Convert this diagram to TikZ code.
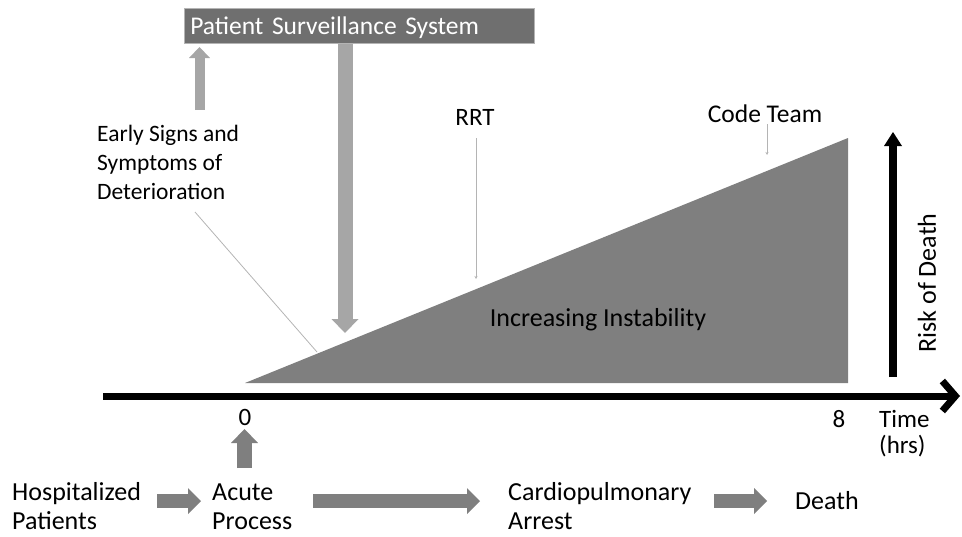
\documentclass[tikz,border=0pt]{standalone}
\usepackage{fontspec}
\setmainfont{Carlito}
\usetikzlibrary{arrows.meta}
\definecolor{boxgray}{HTML}{6F6F6F}
\definecolor{trigray}{HTML}{7F7F7F}
\definecolor{lightarr}{HTML}{A6A6A6}
\definecolor{darkarr}{HTML}{7F7F7F}
\definecolor{callout}{HTML}{B4B4B4}
\begin{document}
\begin{tikzpicture}[x=1pt,y=-1pt,
  lbl/.style={inner sep=0pt, font=\fontsize{26}{30}\selectfont, align=left},
  blkdark/.style={darkarr, line width=14pt, -{Triangle[length=13pt,width=26pt,line width=0pt]}},
  blklight/.style={lightarr, line width=15pt, -{Triangle[length=14pt,width=27pt,line width=0pt]}},
  blkthin/.style={lightarr, line width=10pt, -{Triangle[length=11pt,width=21pt,line width=0pt]}},
  calloutline/.style={callout, line width=0.8pt},
  axisline/.style={black, line width=7pt, -{Straight Barb[length=13pt,width=30pt]}},
  riskarrow/.style={black, line width=8.5pt, -{Triangle[length=14pt,width=18pt,line width=0pt]}}
]
\useasboundingbox (0,0) rectangle (962,536);

% triangle of instability
\fill[trigray] (245,383) -- (848,138) -- (848,383) -- cycle;
\node[lbl] (instab) at (598,320) {Increasing Instability};

% top box
\node[lbl, anchor=north west, draw=callout, line width=0.6pt, fill=boxgray, text=white,
      font=\fontsize{25.5}{30}\selectfont,
      minimum width=350pt, minimum height=35pt, text width=338pt, inner xsep=6pt,
      text height=17pt, text depth=0pt] (pss) at (184,8)
      {Patient Surveillance System};

% early signs (base = last line's baseline)
\node[lbl, anchor=base west, font=\fontsize{23.5}{28.7}\selectfont] (early) at (97,199)
      {Early Signs and\\Symptoms of\\Deterioration};
\coordinate (earlyup) at (199.5,110);
\coordinate (earlytip) at (199.5,47);
\draw[blkthin] (earlyup) -- (earlytip);
\coordinate (early1) at (195,212);
\coordinate (early2) at (317,352);
\draw[calloutline] (early1) -- (early2);

% surveillance down arrow
\coordinate (pssdown) at (345,44);
\coordinate (psstip) at (345,333);
\draw[blklight] (pssdown) -- (psstip);

% RRT
\node[lbl, anchor=base, font=\fontsize{25}{30}\selectfont] (rrt) at (475,125) {RRT};
\coordinate (rrt1) at (476,138);
\coordinate (rrt2) at (476,279);
\draw[calloutline, -{Stealth[length=3pt,width=3pt]}] (rrt1) -- (rrt2);

% Code Team
\node[lbl, anchor=base, font=\fontsize{25.5}{30}\selectfont] (code) at (765,122) {Code Team};
\coordinate (code1) at (767,124);
\coordinate (code2) at (767,155);
\draw[calloutline, -{Stealth[length=3pt,width=3pt]}] (code1) -- (code2);

% time axis
\coordinate (ax0) at (103,396);
\coordinate (ax1) at (960,396);
\draw[axisline] (ax0) -- (ax1);
\node[lbl, anchor=base, font=\fontsize{25}{30}\selectfont] (zero) at (245,425) {0};
\node[lbl, anchor=base, font=\fontsize{25}{30}\selectfont] (eight) at (839,427) {8};
\node[lbl, anchor=base west, font=\fontsize{25}{26}\selectfont] (time) at (879,453) {Time\\(hrs)};

% risk of death
\coordinate (risk0) at (893,377);
\coordinate (risk1) at (893,132);
\draw[riskarrow] (risk0) -- (risk1);
\node[lbl, rotate=90] (risk) at (927,283) {Risk of Death};

% bottom row
\node[lbl, anchor=base west, font=\fontsize{26}{29}\selectfont] (hosp) at (12,529) {Hospitalized\\Patients};
\node[lbl, anchor=base west, font=\fontsize{26}{29}\selectfont] (acute) at (212,529) {Acute\\Process};
\node[lbl, anchor=base west, font=\fontsize{26}{29}\selectfont] (cpa) at (508,529) {Cardiopulmonary\\Arrest};
\node[lbl, anchor=base west] (death) at (795,509) {Death};

\coordinate (a1s) at (157,501);
\coordinate (a1e) at (201,501);
\draw[blkdark] (a1s) -- (a1e);
\coordinate (a2s) at (313,501);
\coordinate (a2e) at (480,501);
\draw[blkdark] (a2s) -- (a2e);
\coordinate (a3s) at (714,501);
\coordinate (a3e) at (767,501);
\draw[blkdark] (a3s) -- (a3e);
\coordinate (a0s) at (244.5,468);
\coordinate (a0e) at (244.5,429);
\draw[blkdark, line width=15pt, -{Triangle[length=14pt,width=27pt,line width=0pt]}] (a0s) -- (a0e);
\end{tikzpicture}
\end{document}
